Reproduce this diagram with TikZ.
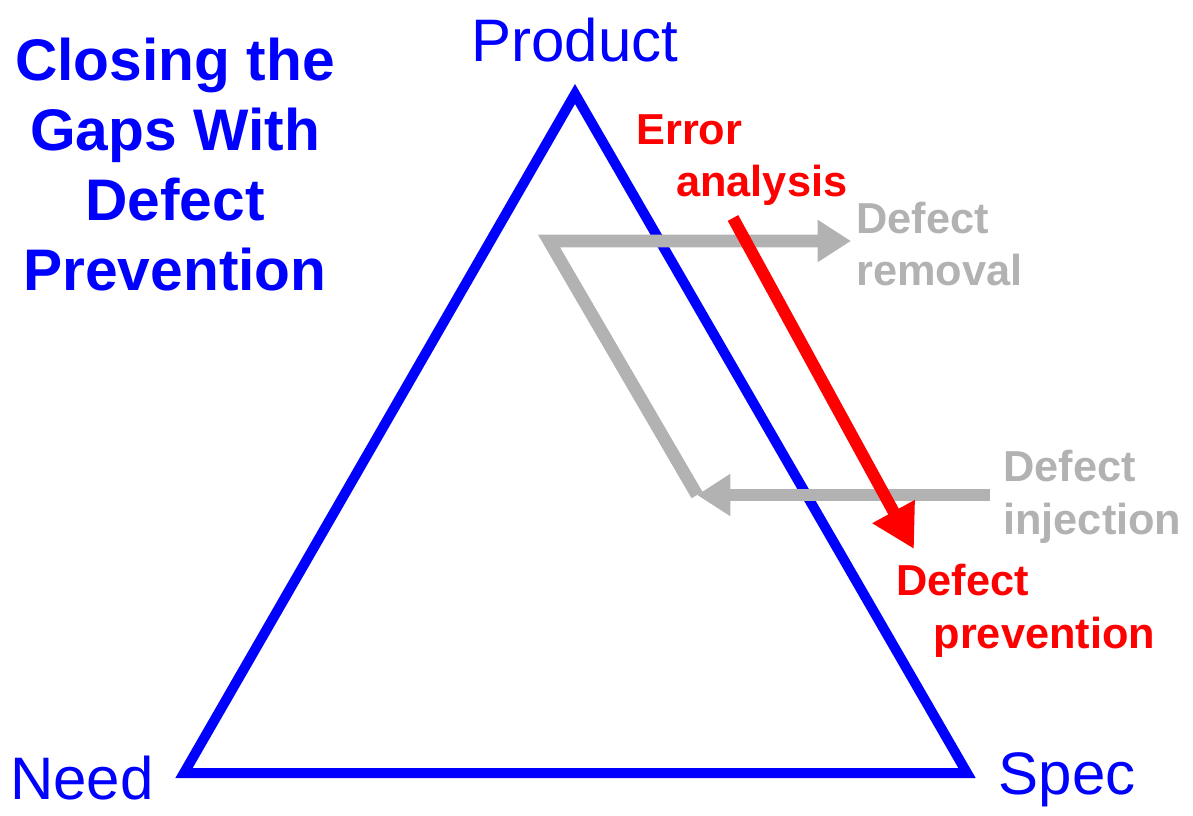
\documentclass[tikz,border=0pt]{standalone}
\usepackage{fontspec}
\setmainfont{Liberation Sans}
\usepackage{tikz}
\usetikzlibrary{arrows.meta,positioning}
\usepackage{xcolor}
\definecolor{gpblue}{RGB}{0,0,255}
\definecolor{gpred}{RGB}{255,0,0}
\definecolor{gpgray}{RGB}{178,178,178}
\tikzstyle{corner} = [font=\fontsize{45}{54}\selectfont, text=gpblue, inner sep=0pt]
\tikzstyle{lbl} = [font=\bfseries\fontsize{32.5}{39.5}\selectfont, align=left, anchor=west, inner sep=0pt]
\tikzstyle{grayarrow} = [line width=9.5pt, gpgray, -{Triangle[length=25pt,width=30pt]}]

\begin{document}
\begin{tikzpicture}[x=0.75pt, y=-0.75pt]
\useasboundingbox (0,0) rectangle (1193,816);
% triangle corners
\coordinate (apex) at (575,94);
\coordinate (need) at (184,773);
\coordinate (spec) at (967,773);
\draw[line width=7.5pt, gpblue, line join=miter] (apex) -- (spec) -- (need) -- cycle;
\node[corner] (product) at (575,40) {Product};
\node[corner] (needlbl) at (82,778) {Need};
\node[corner] (speclbl) at (1067,780) {Spec};

% title
\node[font=\bfseries\fontsize{44}{52.5}\selectfont, text=gpblue, align=center] (title) at (175,165)
  {Closing the\\Gaps With\\Defect\\Prevention};

% gray loop
\coordinate (injstart) at (990,495);
\coordinate (injtip) at (697,495);
\coordinate (turn) at (549,241);
\coordinate (remtip) at (851,241);
\draw[grayarrow] (injstart) -- (injtip);
\draw[grayarrow, line join=miter] (injtip) -- (turn) -- (remtip);
\node[lbl, text=gpgray] (removal) at (856,244) {Defect\\removal};
\node[lbl, text=gpgray] (injection) at (1003,497) {Defect\\injection};

% red arrow
\coordinate (errstart) at (733,218);
\coordinate (errtip) at (914,549);
\draw[line width=9pt, gpred, -{Triangle[length=32pt,width=34pt]}] (errstart) -- (errtip);
\node[lbl, text=gpred] (error) at (636,160) {Error\\\hspace*{30pt}analysis};
\node[lbl, text=gpred] (prevention) at (896,611) {Defect\\\hspace*{28pt}prevention};
\end{tikzpicture}
\end{document}
